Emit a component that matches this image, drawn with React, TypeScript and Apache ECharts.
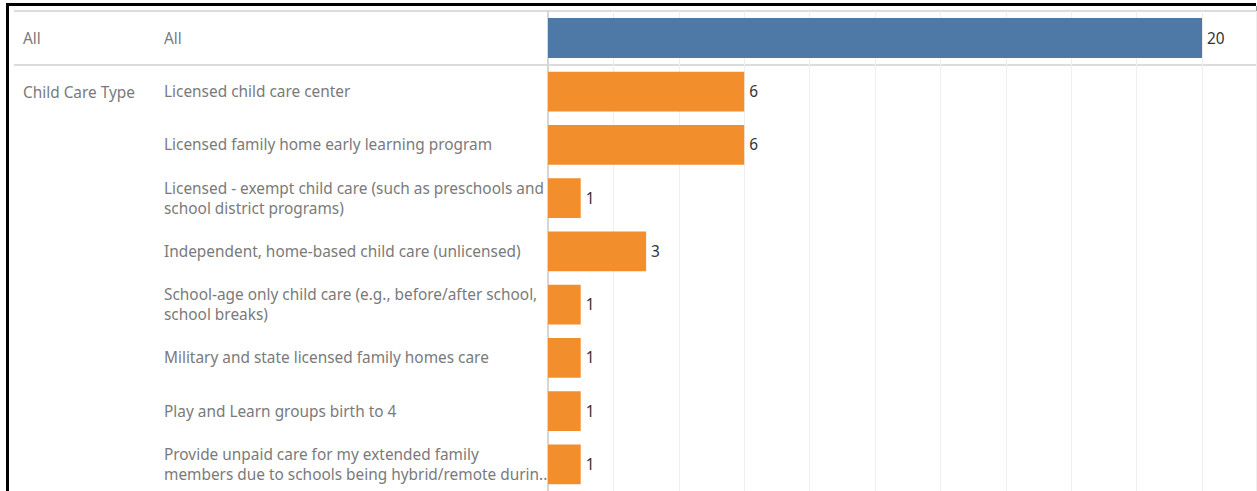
import React, { useEffect, useRef } from "react";
import * as echarts from "echarts";

const allCategories = ["All"];
const allValues = [20];

const typeCategories = [
  "Licensed child care center",
  "Licensed family home early learning program",
  "Licensed - exempt child care (such as preschools and\nschool district programs)",
  "Independent, home-based child care (unlicensed)",
  "School-age only child care (e.g., before/after school,\nschool breaks)",
  "Military and state licensed family homes care",
  "Play and Learn groups birth to 4",
  "Provide unpaid care for my extended family\nmembers due to schools being hybrid/remote durin..",
];
const typeValues = [6, 6, 1, 3, 1, 1, 1, 1];

const groupLabel = "Child Care Type";
const allGroupLabel = "All";

const FONT = "Noto Sans";
const TEXT_COLOR = "#7a7a7a";
const FS = 15.4;

export default function App() {
  const ref = useRef<HTMLDivElement>(null);
  useEffect(() => {
    if (!ref.current) return;
    const chart = echarts.init(ref.current, undefined, { renderer: "svg" });
    const xAxisCommon = {
      type: "value" as const,
      min: 0,
      max: 21.65,
      interval: 2,
      axisLabel: { show: false },
      axisTick: { show: false },
      axisLine: { show: false },
      splitLine: { show: true, lineStyle: { color: "#efefef", width: 1 } },
    };
    const yAxisCommon = {
      type: "category" as const,
      inverse: true,
      axisTick: { show: false },
      axisLine: { show: true, lineStyle: { color: "#d6d6d6", width: 2 } },
      axisLabel: {
        align: "left" as const,
        margin: 384,
        color: TEXT_COLOR,
        fontSize: FS,
        lineHeight: 20,
        fontFamily: FONT,
      },
    };
    const labelCommon = {
      show: true,
      position: "right" as const,
      distance: 5,
      color: "#333",
      fontSize: FS,
      fontFamily: FONT,
    };
    chart.setOption({
      animation: false,
      grid: [
        { left: 548, width: 708, top: 11, height: 54 },
        { left: 548, width: 708, top: 65, height: 429 },
      ],
      xAxis: [
        { ...xAxisCommon, gridIndex: 0 },
        { ...xAxisCommon, gridIndex: 1 },
      ],
      yAxis: [
        { ...yAxisCommon, gridIndex: 0, data: allCategories },
        { ...yAxisCommon, gridIndex: 1, data: typeCategories },
      ],
      series: [
        {
          type: "bar",
          xAxisIndex: 0,
          yAxisIndex: 0,
          data: allValues,
          barCategoryGap: "26%",
          itemStyle: { color: "#4e79a7" },
          label: labelCommon,
        },
        {
          type: "bar",
          xAxisIndex: 1,
          yAxisIndex: 1,
          data: typeValues,
          barCategoryGap: "25%",
          itemStyle: { color: "#f28e2b" },
          label: labelCommon,
        },
      ],
      graphic: [
        { type: "line", shape: { x1: 14, y1: 11, x2: 1256, y2: 11 }, style: { stroke: "#dcdcdc", lineWidth: 2 } },
        { type: "line", shape: { x1: 14, y1: 65, x2: 1256, y2: 65 }, style: { stroke: "#dcdcdc", lineWidth: 2 } },
        { type: "text", x: 23, y: 38, style: { text: allGroupLabel, fill: TEXT_COLOR, fontSize: FS, fontFamily: FONT, verticalAlign: "middle" } },
        { type: "text", x: 23, y: 92, style: { text: groupLabel, fill: TEXT_COLOR, fontSize: FS, fontFamily: FONT, verticalAlign: "middle" } },
        { type: "rect", shape: { x: 6, y: 3, width: 1250, height: 3 }, style: { fill: "#000" } },
        { type: "rect", shape: { x: 6, y: 3, width: 3, height: 488 }, style: { fill: "#000" } },
        { type: "line", shape: { x1: 1256.5, y1: 6, x2: 1256.5, y2: 491 }, style: { stroke: "#9a9a9a", lineWidth: 1 } },
      ],
    });
    return () => chart.dispose();
  }, []);
  return <div ref={ref} style={{ position: "absolute", left: 0, top: 0, width: 1257, height: 491 }} />;
}
